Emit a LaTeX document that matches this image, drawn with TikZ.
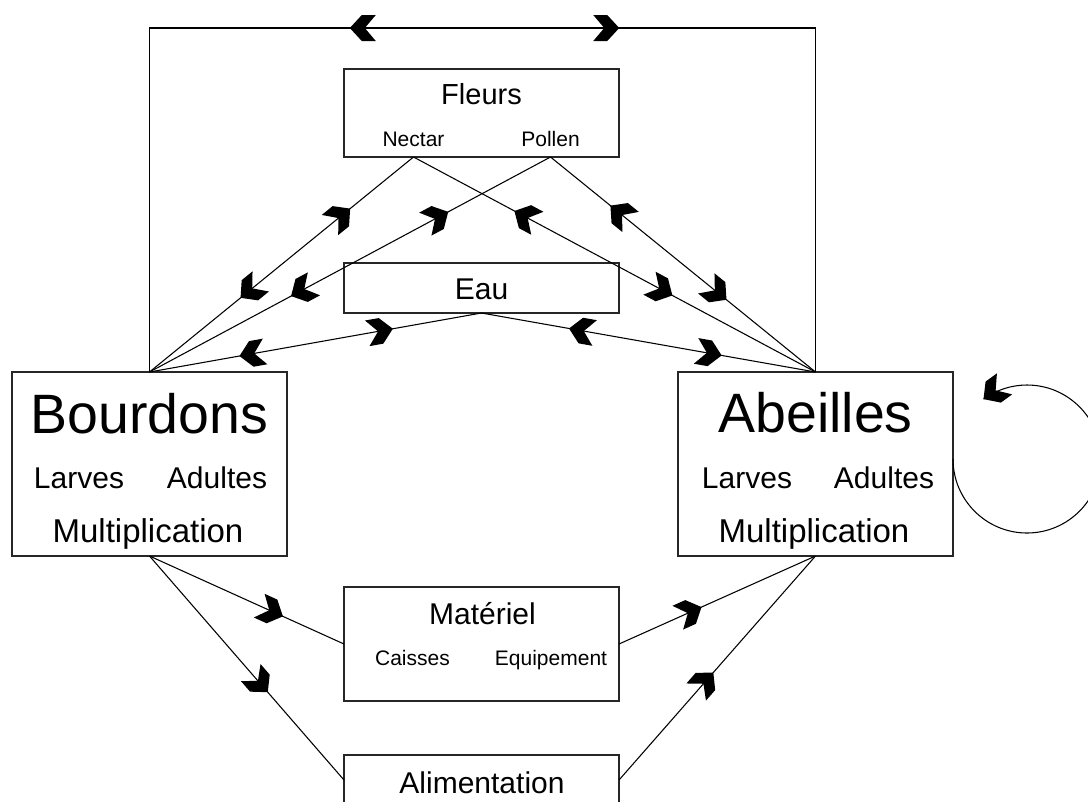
\documentclass[tikz,border=0pt]{standalone}
\usepackage{fontspec}
\setmainfont{Liberation Sans}
\usetikzlibrary{decorations.markings}
\newcommand{\fsz}[1]{\fontsize{#1}{#1}\selectfont}
\tikzset{
  box/.style={draw=black!85, line width=1pt, rectangle, inner sep=0pt, outer sep=0pt, minimum width=206.25pt},
  lbl/.style={anchor=base, inner sep=0pt},
  big/.style={lbl, font=\fsz{41.6pt}},
  med/.style={lbl, font=\fsz{22.5pt}},
  mult/.style={lbl, font=\fsz{24.75pt}},
  small/.style={lbl, font=\fsz{15.75pt}},
  conn/.style={draw=black, line width=0.8pt},
  fwd/.style={postaction={decorate, decoration={markings, mark=at position #1 with {\fill[black] (0,0)--(-12,13)--(-26,13)--(-15,0)--(-26,-13)--(-12,-13)--cycle;}}}},
  bwd/.style={postaction={decorate, decoration={markings, mark=at position #1 with {\fill[black] (0,0)--(12,13)--(26,13)--(15,0)--(26,-13)--(12,-13)--cycle;}}}}
}
\begin{document}
\begin{tikzpicture}[x=0.75pt, y=-0.75pt]
\useasboundingbox (0,0) rectangle (1088,801);
\clip (0,0) rectangle (1088,801);
% boxes
\node[box, minimum height=138pt] (B) at (149.5,464) {};
\node[box, minimum height=138pt] (A) at (815.5,464) {};
\node[box, minimum height=66pt] (F) at (481.5,113) {};
\node[box, minimum height=37.5pt] (E) at (481.5,288) {};
\node[box, minimum height=85.5pt] (M) at (481.5,644) {};
\node[box, minimum height=37.5pt] (Al) at (481.5,780) {};
% texts
\node[big] (Bt) at (149.5,433) {Bourdons};
\node[med] (Bl) at (79,488) {Larves};
\node[med] (Ba) at (217,488) {Adultes};
\node[mult] (Bm) at (148,542) {Multiplication};
\node[big] (At) at (815.5,432) {Abeilles};
\node[med] (Al1) at (747,488) {Larves};
\node[med] (Aa) at (884,488) {Adultes};
\node[mult] (Am) at (814,542) {Multiplication};
\node[lbl, font=\fsz{21.75pt}] (Ft) at (481.5,104) {Fleurs};
\node[small] (Nec) at (413.5,146) {Nectar};
\node[small] (Pol) at (550.5,146) {Pollen};
\node[med] (Et) at (481.5,299) {Eau};
\node[med] (Mt) at (482.5,624) {Matériel};
\node[small] (Mc) at (412.5,665) {Caisses};
\node[small] (Me) at (551,665) {Equipement};
\node[med] (Alt) at (482,793) {Alimentation};
% top loop
\coordinate (TL) at (149.5,28);
\path[conn, bwd=0.402, fwd=0.601] (B.north) -- (TL) -| (A.north);
% flowers
\path[conn, bwd=0.345, fwd=0.76] (B.north) -- (F.south -| Nec);
\path[conn, bwd=0.353, fwd=0.745] (B.north) -- (F.south -| Pol);
\path[conn, bwd=0.356, fwd=0.749] (A.north) -- (F.south -| Nec);
\path[conn, bwd=0.336, fwd=0.774] (A.north) -- (F.south -| Pol);
% water
\path[conn, bwd=0.271, fwd=0.733] (B.north) -- (E.south);
\path[conn, bwd=0.281, fwd=0.738] (A.north) -- (E.south);
% lower
\path[conn, fwd=0.686] (B.south) -- (M.west);
\path[conn, fwd=0.608] (B.south) -- (Al.west);
\path[conn, fwd=0.42] (M.east) -- (A.south);
\path[conn, fwd=0.48] (Al.east) -- (A.south);
% self loop
\path[conn, fwd=1] ([yshift=3.75pt]A.east) arc[start angle=180, end angle=-126, radius=74];
\end{tikzpicture}
\end{document}
